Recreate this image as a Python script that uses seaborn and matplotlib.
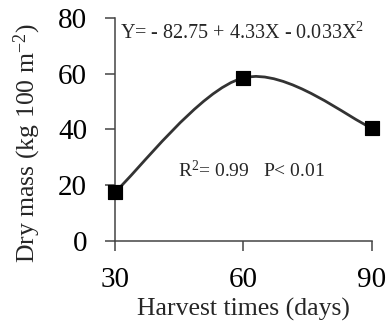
import numpy as np
import pandas as pd
import matplotlib
matplotlib.use('Agg')
import matplotlib.pyplot as plt
import seaborn as sns
from matplotlib.path import Path
from matplotlib.patches import PathPatch

days = [30, 60, 90]
dry_mass = [17.5, 58.5, 40.5]
x_ticks = [30, 60, 90]
y_ticks = [0, 20, 40, 60, 80]
equation = "Y= - 82.75 + 4.33X - 0.033X$^{2}$"
stats_text = "R$^{2}$= 0.99   P< 0.01"
x_label = "Harvest times (days)"
y_label = "Dry mass (kg 100 m$^{-2}$)"

sns.set_style('ticks')
plt.rcParams['font.family'] = ['Liberation Serif', 'DejaVu Serif']
plt.rcParams['mathtext.fontset'] = 'custom'
plt.rcParams['mathtext.rm'] = 'Liberation Serif'
plt.rcParams['mathtext.it'] = 'Liberation Serif:italic'

df = pd.DataFrame({'days': days, 'mass': dry_mass})
fig = plt.figure(figsize=(3.87, 3.26), dpi=100)
ax = fig.add_axes([0.297, 0.261, 0.664, 0.684])

# smooth curve through the data points (Bezier path, Excel-like smoothing)
pts = np.column_stack([days, dry_mass]).astype(float)
verts = [tuple(pts[0])]
codes = [Path.MOVETO]
n = len(pts)
for i in range(n - 1):
    p0 = pts[i - 1] if i > 0 else pts[i]
    p1 = pts[i]
    p2 = pts[i + 1]
    p3 = pts[i + 2] if i + 2 < n else pts[i + 1]
    c1 = p1 + (p2 - p0) / 6
    c2 = p2 - (p3 - p1) / 6
    verts += [tuple(c1), tuple(c2), tuple(p2)]
    codes += [Path.CURVE4] * 3
ax.add_patch(PathPatch(Path(verts, codes), fill=False, lw=2.0,
                       edgecolor='#333333', zorder=2, clip_on=False))

sns.scatterplot(data=df, x='days', y='mass', marker='s', s=110,
                color='black', edgecolor='black', ax=ax, zorder=3,
                legend=False, clip_on=False)

ax.set_xlim(30, 90)
ax.set_ylim(0, 80)
ax.set_xticks(x_ticks)
ax.set_yticks(y_ticks)
sns.despine(ax=ax)
for sp in ['left', 'bottom']:
    ax.spines[sp].set_color('#444444')
    ax.spines[sp].set_linewidth(1.1)
ax.tick_params(axis='both', colors='#444444', labelcolor='black',
               length=7, width=1.1, labelsize=21, direction='out')
ax.tick_params(axis='x', pad=12)
ax.tick_params(axis='y', pad=13)
ax.set_xlabel(x_label, fontsize=18.5, labelpad=3)
ax.set_ylabel(y_label, fontsize=18.5)
ax.yaxis.set_label_coords(-0.28, 0.44)

ax.text(0.02, 0.93, equation, transform=ax.transAxes, fontsize=14.5,
        ha='left', va='center')
ax.text(0.533, 0.318, stats_text, transform=ax.transAxes, fontsize=14,
        ha='center', va='center')

fig.savefig('out.png', dpi=100)
